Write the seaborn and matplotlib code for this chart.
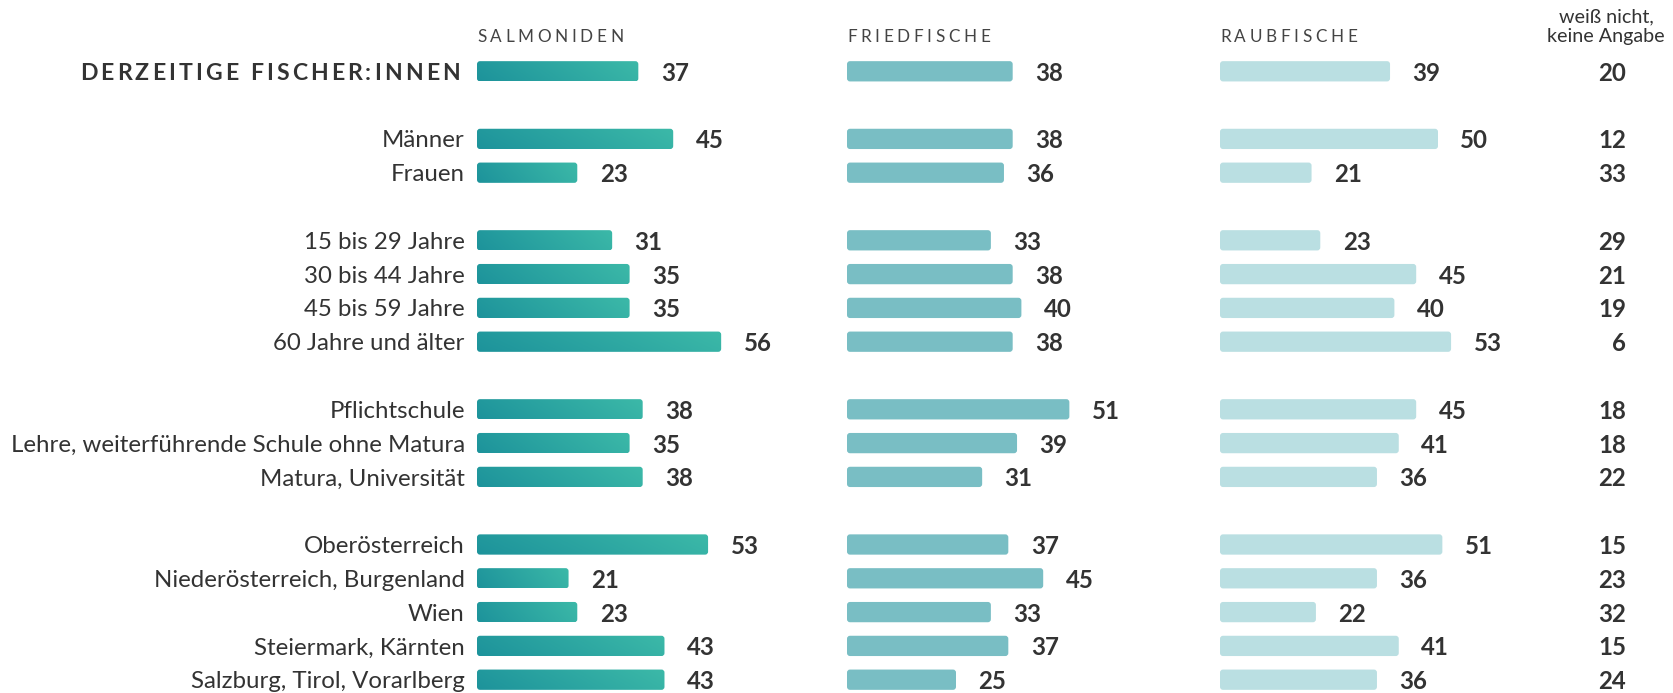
import numpy as np
import pandas as pd
import matplotlib
matplotlib.use("Agg")
import matplotlib.pyplot as plt
import seaborn as sns
from matplotlib.patches import FancyBboxPatch
from matplotlib.colors import LinearSegmentedColormap
from matplotlib.font_manager import FontProperties

# ---------------- data ----------------
categories = ["DERZEITIGE FISCHER:INNEN",
              "Männer", "Frauen",
              "15 bis 29 Jahre", "30 bis 44 Jahre", "45 bis 59 Jahre", "60 Jahre und älter",
              "Pflichtschule", "Lehre, weiterführende Schule ohne Matura", "Matura, Universität",
              "Oberösterreich", "Niederösterreich, Burgenland", "Wien", "Steiermark, Kärnten",
              "Salzburg, Tirol, Vorarlberg"]
group = [0, 1, 1, 2, 2, 2, 2, 3, 3, 3, 4, 4, 4, 4, 4]
salmoniden = [37, 45, 23, 31, 35, 35, 56, 38, 35, 38, 53, 21, 23, 43, 43]
friedfische = [38, 38, 36, 33, 38, 40, 38, 51, 39, 31, 37, 45, 33, 37, 25]
raubfische = [39, 50, 21, 23, 45, 40, 53, 45, 41, 36, 51, 36, 22, 41, 36]
weiss_nicht = [20, 12, 33, 29, 21, 19, 6, 18, 18, 22, 15, 23, 32, 15, 24]
col_titles = ["SALMONIDEN", "FRIEDFISCHE", "RAUBFISCHE"]
last_title = "weiß nicht,\nkeine Angabe"

# ---------------- style ----------------
sns.set_theme(style="white")
plt.rcParams["font.family"] = ["Lato", "DejaVu Sans"]
TXT = "#333333"

W, H = 1673, 693
fig = plt.figure(figsize=(W / 100, H / 100), dpi=100)
fig.patch.set_facecolor("white")

pos = [i + g for i, g in enumerate(group)]
df = pd.DataFrame({"label": categories, "pos": pos, "Salmoniden": salmoniden,
                   "Friedfische": friedfische, "Raubfische": raubfische,
                   "weiss": weiss_nicht})

row_px = 33.8
y0_px = 71.3
px_per_unit = 4.36
xmax = 60
top_pad, bot_pad = 0.6, 0.35
max_pos = max(pos)
ax_top_px = y0_px - top_pad * row_px
ax_h_px = (max_pos + top_pad + bot_pad) * row_px
ax_w_px = xmax * px_per_unit
lefts_px = [477, 847, 1220]
columns = ["Salmoniden", "Friedfische", "Raubfische"]
colors = ["#2aa7a3", "#79bec4", "#badfe2"]
cmap = LinearSegmentedColormap.from_list("salm", ["#1d939b", "#3cb9a8"])
VAL_FS = 17.3

axes = []
for col, left, c in zip(columns, lefts_px, colors):
    ax = fig.add_axes([left / W, 1 - (ax_top_px + ax_h_px) / H, ax_w_px / W, ax_h_px / H])
    sns.barplot(data=df, x=col, y="pos", orient="y", native_scale=True, width=0.6,
                color=c, saturation=1, errorbar=None, ax=ax)
    ax.set_xlim(0, xmax)
    ax.set_ylim(max_pos + bot_pad, -top_pad)
    ax.axis("off")
    rx = 3.0 / px_per_unit
    ry = 3.0 / row_px
    for p in list(ax.patches):
        x, y, w, h = p.get_x(), p.get_y(), p.get_width(), p.get_height()
        p.set_visible(False)
        fb = FancyBboxPatch((x, y), w, h, boxstyle=f"round,pad=0,rounding_size={rx}",
                            mutation_aspect=ry / rx, facecolor=c, edgecolor="none")
        ax.add_patch(fb)
        if col == "Salmoniden":
            nx, ny = 128, 16
            xf = np.linspace(0, 1, nx)[None, :]
            yf = np.linspace(0, 1, ny)[:, None]
            grad = 0.85 * xf + 0.15 * (1 - yf)
            im = ax.imshow(grad, extent=(x, x + w, y + h, y), aspect="auto", cmap=cmap,
                           origin="upper", interpolation="bilinear", vmin=0, vmax=1)
            im.set_clip_path(fb)
            fb.set_facecolor("none")
    ax.set_xlim(0, xmax)
    ax.set_ylim(max_pos + bot_pad, -top_pad)
    # value labels
    for v, yp in zip(df[col], df["pos"]):
        ax.annotate(f"{v}", xy=(v, yp), xytext=(16.1, 0), textcoords="offset points",
                    ha="left", va="center_baseline", fontsize=VAL_FS, fontweight="bold",
                    color=TXT)
    axes.append(ax)

ax1 = axes[0]
renderer = fig.canvas.get_renderer()


def spaced_text(s, x_px, y_base_px, spacing_px, ha="left", **kw):
    prop = FontProperties(family=["Lato", "DejaVu Sans"], size=kw.get("fontsize", 12),
                          weight=kw.get("fontweight", "normal"))
    w_bar = renderer.get_text_width_height_descent("||", prop, ismath=False)[0]
    adv = [renderer.get_text_width_height_descent("|" + ch + "|", prop, ismath=False)[0] - w_bar
           for ch in s]
    total = sum(adv) + spacing_px * (len(s) - 1)
    x = x_px if ha == "left" else x_px - total
    for ch, a in zip(s, adv):
        fig.text(x / W, y_base_px / H, ch, ha="left", va="baseline", **kw)
        x += a + spacing_px


# category labels
for lab, yp, g in zip(categories, pos, group):
    if g == 0:
        ydisp = ax1.transData.transform((0, yp))[1]
        fs = 16.6
        spaced_text(lab, 460, ydisp - 0.36 * fs * 100 / 72, 3.1, ha="right",
                    fontsize=fs, fontweight="bold", color=TXT)
    else:
        ax1.annotate(lab, xy=(0, yp), xytext=(-8.8, 0), textcoords="offset points",
                     ha="right", va="center_baseline", fontsize=17.3, color=TXT)

# column headers
for t, left in zip(col_titles, lefts_px):
    fs = 12.3
    spaced_text(t, left, H - 36 - 0.36 * fs * 100 / 72, 3.6, ha="left",
                fontsize=fs, fontweight="normal", color="#444444")

# last column
fig.text(1606 / W, 1 - 27 / H, last_title, ha="center", va="center", fontsize=14.2,
         linespacing=1.18, color=TXT)
for v, yp in zip(weiss_nicht, pos):
    ydisp = ax1.transData.transform((0, yp))[1]
    fig.text(1626 / W, ydisp / H, f"{v}", ha="right", va="center_baseline",
             fontsize=VAL_FS, fontweight="bold", color=TXT)

fig.savefig("out.png", dpi=100, facecolor="white")
